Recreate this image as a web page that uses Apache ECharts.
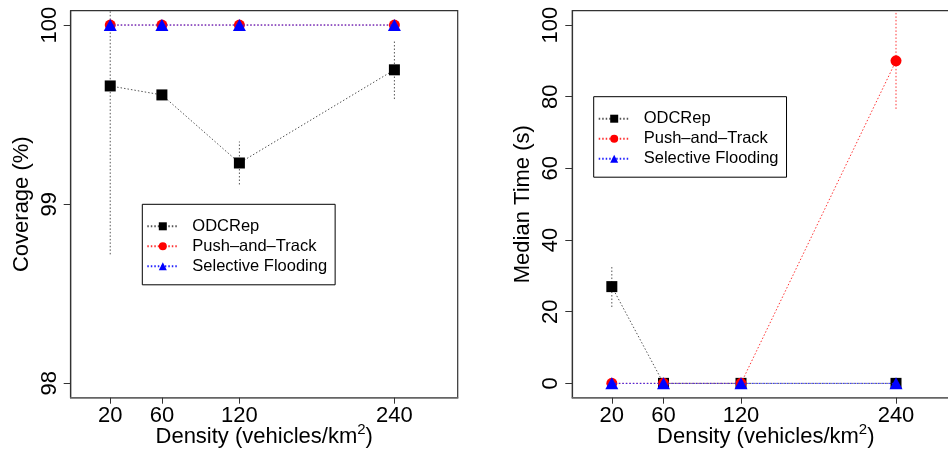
<!DOCTYPE html>
<html>
<head>
<meta charset="utf-8">
<script src="https://cdn.jsdelivr.net/npm/echarts@6/dist/echarts.min.js"></script>
<style>html,body{margin:0;padding:0;background:#fff}#c{width:948px;height:452px}</style>
</head>
<body>
<div id="c"></div>
<script>
// ---- data ----
var densities = [20, 60, 120, 240];
var seriesNames = ['ODCRep', 'Push\u2013and\u2013Track', 'Selective Flooding'];
// Coverage (%)
var covODCRep = [99.66, 99.61, 99.23, 99.75];
var covODCRepErr = [0.94, 0, 0.12, 0.163];
var covPushTrack = [100, 100, 100, 100];
var covSelFlood = [100, 100, 100, 100];
// Median time (s)
var timeODCRep = [27, 0, 0, 0];
var timeODCRepErr = [5.7, 0, 0, 0];
var timePushTrack = [0, 0, 0, 90];
var timePushTrackErr = [0, 0, 0, 13.4];
var timeSelFlood = [0, 0, 0, 0];
var covTicks = [98, 99, 100];
var timeTicks = [0, 20, 40, 60, 80, 100];

// ---- build ----
function pairs(ys) { return densities.map(function (d, i) { return [d, ys[i]]; }); }
function errData(ys, es) { return densities.map(function (d, i) { return [d, ys[i], es[i]]; }); }

var FONT = 'Liberation Sans, Arial, Helvetica, sans-serif';
var colors = ['#000000', '#ff0000', '#0000ff'];
var lineColors = ['#555555', '#ff3333', '#2222ff'];
var symbols = ['rect', 'circle', 'triangle'];
var symSizes = [11, 11, [13, 12]];

function errSeries(name, ys, es, color, gi) {
  return {
    type: 'custom', name: name + ' err', xAxisIndex: gi, yAxisIndex: gi, z: 1,
    silent: true,
    data: errData(ys, es),
    renderItem: function (params, api) {
      var x = api.value(0), m = api.value(1), e = api.value(2);
      if (!e) return null;
      var p1 = api.coord([x, m - e]);
      var p2 = api.coord([x, m + e]);
      var cs = params.coordSys;
      var top = cs.y, bot = cs.y + cs.height;
      var y1 = Math.min(Math.max(p1[1], top), bot);
      var y2 = Math.min(Math.max(p2[1], top), bot);
      return {
        type: 'line',
        shape: { x1: p1[0], y1: y1, x2: p2[0], y2: y2 },
        style: { stroke: color, lineWidth: 1, lineDash: [1.5, 2] }
      };
    }
  };
}

function lineSeries(idx, ys, gi) {
  return {
    type: 'line', name: seriesNames[idx], xAxisIndex: gi, yAxisIndex: gi,
    data: pairs(ys), symbol: symbols[idx], symbolSize: symSizes[idx],
    showAllSymbol: true, z: 2 + idx,
    lineStyle: { color: lineColors[idx], width: 1, type: [1.5, 2] },
    itemStyle: { color: colors[idx] },
    emphasis: { disabled: true }
  };
}

var grids = [
  { left: 70.7, top: 10.7, width: 387, height: 387, show: true, borderColor: '#333', borderWidth: 1.2,
    backgroundColor: 'transparent', outerBoundsMode: 'none', containLabel: false },
  { left: 572.3, top: 10.7, width: 387, height: 387, show: true, borderColor: '#333', borderWidth: 1.2,
    backgroundColor: 'transparent', outerBoundsMode: 'none', containLabel: false }
];

function xAxisCfg(gi) {
  return {
    type: 'value', gridIndex: gi, min: -10.6, max: 289,
    name: '{a|Density (vehicles/km}{s|2}{a|)}',
    nameLocation: 'middle', nameGap: 24, nameMoveOverlap: false,
    nameTextStyle: {
      color: '#000', fontFamily: FONT, fontSize: 22,
      rich: { a: { fontSize: 22, fontFamily: FONT, color: '#000', lineHeight: 30 },
              s: { fontSize: 15, fontFamily: FONT, color: '#000', padding: [0, 0, 13, 0], lineHeight: 15 } }
    },
    axisLine: { show: true, onZero: false, lineStyle: { color: '#777', width: 1.6 } },
    axisTick: { show: true, length: 6, customValues: densities, lineStyle: { color: '#333' } },
    axisLabel: { customValues: densities, color: '#000', fontFamily: FONT, fontSize: 22, margin: 7 },
    splitLine: { show: false }
  };
}
function yAxisCfg(gi, min, max, ticks, name) {
  return {
    type: 'value', gridIndex: gi, min: min, max: max,
    name: name, nameLocation: 'middle', nameRotate: 90, nameGap: 38, nameMoveOverlap: false,
    nameTextStyle: { color: '#000', fontFamily: FONT, fontSize: 22 },
    axisLine: { show: true, onZero: false, lineStyle: { color: '#333', width: 1.2 } },
    axisTick: { show: true, length: 7, customValues: ticks, lineStyle: { color: '#333' } },
    axisLabel: { customValues: ticks, rotate: 90, color: '#000', fontFamily: FONT, fontSize: 22, margin: 10 },
    splitLine: { show: false }
  };
}

function legendCfg(left, top) {
  return {
    orient: 'vertical', left: left, top: top,
    data: seriesNames,
    itemWidth: 31, itemHeight: 10, itemGap: 3,
    padding: [13.5, 8, 10, 4],
    borderColor: '#000', borderWidth: 1, backgroundColor: '#fff',
    textStyle: { color: '#000', fontFamily: FONT, fontSize: 16.5, lineHeight: 17, padding: [0, 0, 0, 9] },
    selectedMode: false
  };
}

var option = {
  animation: false,
  grid: grids,
  xAxis: [xAxisCfg(0), xAxisCfg(1)],
  yAxis: [
    yAxisCfg(0, 97.92, 100.08, covTicks, 'Coverage (%)'),
    yAxisCfg(1, -4, 104, timeTicks, 'Median Time (s)')
  ],
  legend: [legendCfg(142.3, 204.3), legendCfg(593.7, 96.7)],
  series: [
    errSeries('ODCRep', covODCRep, covODCRepErr, '#555', 0),
    lineSeries(0, covODCRep, 0),
    lineSeries(1, covPushTrack, 0),
    lineSeries(2, covSelFlood, 0),
    errSeries('ODCRep', timeODCRep, timeODCRepErr, '#555', 1),
    errSeries('PushTrack', timePushTrack, timePushTrackErr, '#ff3333', 1),
    lineSeries(0, timeODCRep, 1),
    lineSeries(1, timePushTrack, 1),
    lineSeries(2, timeSelFlood, 1)
  ]
};
var chart = echarts.init(document.getElementById('c'), null, { renderer: 'canvas' });
chart.setOption(option);
</script>
</body>
</html>
